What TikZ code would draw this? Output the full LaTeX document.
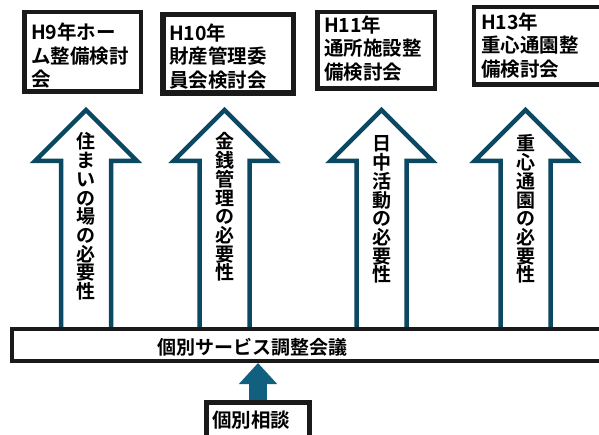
\documentclass[tikz,border=0pt]{standalone}
\usepackage{fontspec}
\setmainfont{Noto Sans CJK JP}[BoldFont={* Bold}]
\usetikzlibrary{arrows.meta}
\definecolor{tealdark}{HTML}{0B4862}
\definecolor{tealfill}{HTML}{11607F}
\definecolor{ink}{HTML}{1A1A1A}
\tikzset{
  topbox/.style={draw=ink, line width=4.5pt, fill=white, inner sep=0pt},
  boxtxt/.style={anchor=base west, align=left, inner sep=0pt, font=\bfseries\fontsize{19.5}{23.5}\selectfont},
  needarrow/.style={draw=tealdark, line width=4.5pt, fill=white, line join=miter},
  vtxt/.style={anchor=base, align=center, inner sep=0pt, font=\bfseries\fontsize{19}{18.7}\selectfont},
  bartxt/.style={anchor=base, inner sep=0pt, font=\bfseries\fontsize{19}{19}\selectfont},
}
\newcommand{\needarrowpath}[2]{%
  \path[needarrow] (#1,#2) -- (#1+51,161) -- (#1+25,161) -- (#1+25,331)
    -- (#1-25,331) -- (#1-25,161) -- (#1-51,161) -- cycle;}
\begin{document}
\begin{tikzpicture}[x=1pt,y=-1pt]
\clip (0,0) rectangle (599,435);
\fill[white] (0,0) rectangle (599,435);

% top boxes (text anchors: baseline of last line)
\node[topbox, minimum width=116.5pt, minimum height=79.5pt] (b1) at (82.5,52) {};
\node[boxtxt] (t1) at (31,87) {H9年ホー\\ム整備検討\\会};
\node[topbox, line width=5.5pt, minimum width=130.5pt, minimum height=78.5pt] (b2) at (228,54) {};
\node[boxtxt] (t2) at (169,87.5) {H10年\\財産管理委\\員会検討会};
\node[topbox, minimum width=117.5pt, minimum height=76.5pt] (b3) at (376,50.5) {};
\node[boxtxt] (t3) at (324,79.5) {H11年\\通所施設整\\備検討会};
\node[topbox, minimum width=175.75pt, minimum height=77.5pt] (b4) at (562.1,46) {};
\node[boxtxt] (t4) at (481,76.5) {H13年\\重心通園整\\備検討会};

% block arrows
\needarrowpath{86}{110}
\needarrowpath{224.5}{110}
\needarrowpath{381.5}{110}
\needarrowpath{525.5}{110}
\node[vtxt] (a1) at (86,298.6) {住\\ま\\い\\の\\場\\の\\必\\要\\性};
\node[vtxt] (a2) at (224.5,279.9) {金\\銭\\管\\理\\の\\必\\要\\性};
\node[vtxt] (a3) at (381.5,281.9) {日\\中\\活\\動\\の\\必\\要\\性};
\node[vtxt] (a4) at (525.5,281.9) {重\\心\\通\\園\\の\\必\\要\\性};

% bar
\node[draw=ink, line width=4pt, fill=white, inner sep=0pt, minimum width=640pt, minimum height=32pt, anchor=west] (bar) at (10,345) {};
\node[bartxt] (bart) at (252,354) {個別サービス調整会議};

% bottom box
\node[draw=ink, line width=5pt, fill=white, inner sep=0pt, minimum width=103pt, minimum height=47pt] (cons) at (258,426) {};
\node[boxtxt] (const) at (212,427.5) {個別相談};

% small arrow
\draw[tealfill, line width=18pt, -{Triangle[width=37pt,length=21pt]}] (cons.north) -- (bar.south -| cons.north);
\end{tikzpicture}
\end{document}
